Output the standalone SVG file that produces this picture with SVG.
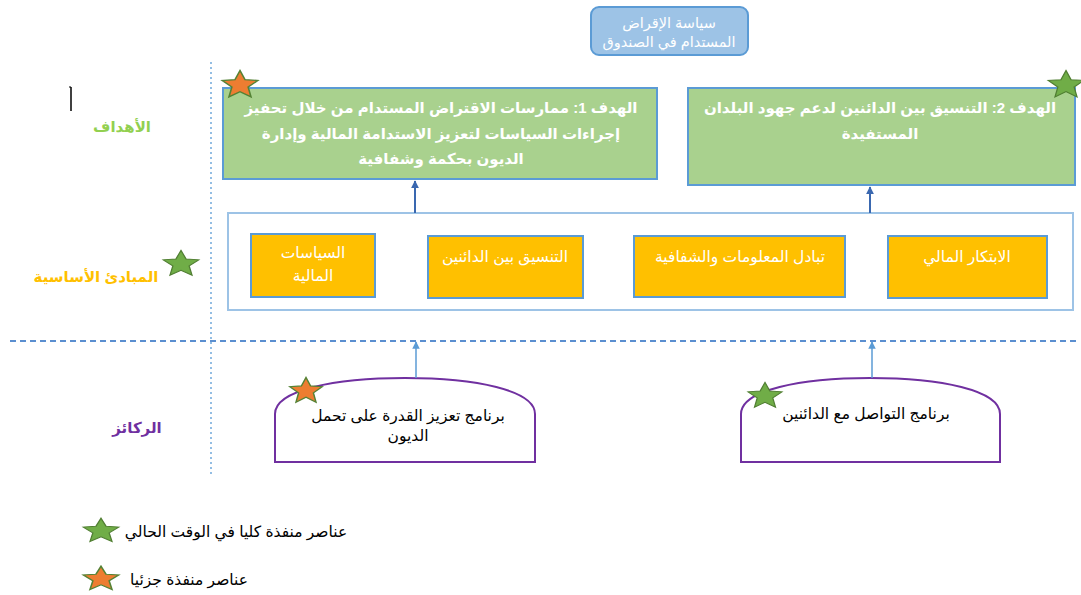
<svg xmlns="http://www.w3.org/2000/svg" width="1081" height="595" viewBox="0 0 1081 595">
<defs>
<style>
text{font-family:"Liberation Sans","DejaVu Sans",sans-serif;text-anchor:middle;direction:rtl}
.w{fill:#ffffff}
.wb{fill:#ffffff;font-weight:bold;font-size:15px}
.k{fill:#000000;font-size:15.5px}
.goal{fill:#A9D18E;stroke:#5B9BD5;stroke-width:2}
.prin{fill:#FFC000;stroke:#5B9BD5;stroke-width:2}
.pillar{fill:#ffffff;stroke:#7030A0;stroke-width:2}
.sg{fill:#70AD47;stroke:#507E32;stroke-width:1.2}
.so{fill:#ED7D31;stroke:#548235;stroke-width:1.5}
</style>
<path id="star" d="M0,-17 L4.6,-6.3 L16.2,-5.3 L7.4,2.4 L10,14 L0,7.8 L-10,14 L-7.4,2.4 L-16.2,-5.3 L-4.6,-6.3 Z"/>
<marker id="ah" viewBox="0 0 10 10" refX="9" refY="5" markerWidth="5" markerHeight="5" orient="auto"><path d="M0,0 L10,5 L0,10 Z" fill="#5B9BD5"/></marker>
<marker id="ahd" viewBox="0 0 10 10" refX="9" refY="5" markerWidth="4" markerHeight="4" orient="auto"><path d="M0,0 L10,5 L0,10 Z" fill="#3A68B0"/></marker>
</defs>
<rect width="1081" height="595" fill="#ffffff"/>

<g id="guides">
<line x1="211" y1="62" x2="211" y2="474" stroke="#5B9BD5" stroke-width="1.3" stroke-dasharray="2,3"/>
<line x1="10" y1="341" x2="1076" y2="341" stroke="#5B8FD0" stroke-width="2" stroke-dasharray="6,4"/>
<line x1="71" y1="87" x2="71" y2="111" stroke="#000000" stroke-width="1.5"/>
<line x1="69" y1="87" x2="71" y2="87" stroke="#000000" stroke-width="1"/>
</g>

<g id="policy">
<rect x="591" y="7" width="157" height="48" rx="8" fill="#9DC3E6" stroke="#5B9BD5" stroke-width="2"/>
<text x="669" y="28" class="w" font-size="14.5">سياسة الإقراض</text>
<text x="669" y="47" class="w" font-size="14.5">المستدام في الصندوق</text>
</g>

<g id="label-goals"><text x="122" y="132" font-size="15" font-weight="bold" fill="#92D050">الأهداف</text></g>
<g id="label-principles"><text x="96" y="282" font-size="15" font-weight="bold" fill="#FFC000">المبادئ الأساسية</text></g>
<g id="label-pillars"><text x="137" y="433" font-size="15" font-weight="bold" fill="#7030A0">الركائز</text></g>

<g id="goal1">
<rect x="223" y="88" width="434" height="91" class="goal"/>
<text x="441" y="113" class="wb">الهدف 1: ممارسات الاقتراض المستدام من خلال تحفيز</text>
<text x="441" y="139" class="wb">إجراءات السياسات لتعزيز الاستدامة المالية وإدارة</text>
<text x="441" y="164" class="wb">الديون بحكمة وشفافية</text>
<use href="#star" transform="translate(240,85) scale(1.1,0.85)" class="so"/>
</g>

<g id="goal2">
<rect x="688" y="88" width="387" height="97" class="goal"/>
<text x="880" y="113" class="wb">الهدف 2: التنسيق بين الدائنين لدعم جهود البلدان</text>
<text x="880" y="139" class="wb">المستفيدة</text>
<use href="#star" transform="translate(1066,85) scale(1.1,0.85)" class="sg"/>
</g>

<g id="principles">
<rect x="228" y="213" width="845" height="97" fill="#ffffff" stroke="#9DC3E6" stroke-width="2"/>
<use href="#star" transform="translate(181,264) scale(1.1,0.8)" class="sg"/>
</g>
<g id="p1">
<rect x="251" y="234" width="124" height="63" class="prin"/>
<text x="313" y="258" class="w" font-size="15.5">السياسات</text>
<text x="313" y="281" class="w" font-size="15.5">المالية</text>
</g>
<g id="p2">
<rect x="428" y="236" width="155" height="62" class="prin"/>
<text x="505" y="262" class="w" font-size="15.5">التنسيق بين الدائنين</text>
</g>
<g id="p3">
<rect x="634" y="236" width="211" height="61" class="prin"/>
<text x="740" y="262" class="w" font-size="15.5">تبادل المعلومات والشفافية</text>
</g>
<g id="p4">
<rect x="888" y="236" width="159" height="62" class="prin"/>
<text x="967" y="262" class="w" font-size="15.5">الابتكار المالي</text>
</g>

<g id="pillar1">
<path d="M275,462 L275,414 C275,390 335,378 405,378 C475,378 535,390 535,414 L535,462 Z" class="pillar"/>
<text x="408" y="421" class="k">برنامج تعزيز القدرة على تحمل</text>
<text x="408" y="441" class="k">الديون</text>
<use href="#star" transform="translate(306,391) scale(1.0,0.8)" class="so"/>
</g>

<g id="pillar2">
<path d="M741,462 L741,414 C741,390 801,378 870,378 C940,378 1000,390 1000,414 L1000,462 Z" class="pillar"/>
<text x="866" y="419" class="k">برنامج التواصل مع الدائنين</text>
<use href="#star" transform="translate(765,396) scale(1.05,0.8)" class="sg"/>
</g>

<g id="connectors">
<line x1="415" y1="213" x2="415" y2="181" stroke="#3A68B0" stroke-width="2" marker-end="url(#ahd)"/>
<line x1="870" y1="213" x2="870" y2="187" stroke="#3A68B0" stroke-width="2" marker-end="url(#ahd)"/>
<line x1="416" y1="378" x2="416" y2="342" stroke="#5B9BD5" stroke-width="1.5" marker-end="url(#ah)"/>
<line x1="872" y1="378" x2="872" y2="342" stroke="#5B9BD5" stroke-width="1.5" marker-end="url(#ah)"/>
</g>

<g id="legend">
<use href="#star" transform="translate(101,531) scale(1.1,0.75)" class="sg"/>
<text x="236" y="537" class="k">عناصر منفذة كليا في الوقت الحالي</text>
<use href="#star" transform="translate(101,579) scale(1.1,0.75)" class="so"/>
<text x="189" y="585" class="k">عناصر منفذة جزئيا</text>
</g>
</svg>
